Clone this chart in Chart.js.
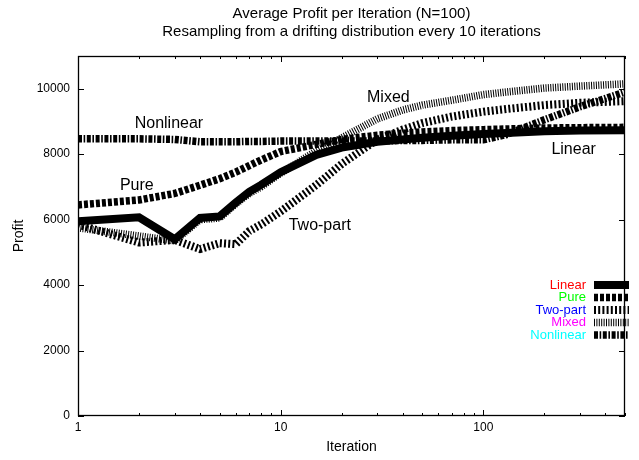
<!DOCTYPE html>
<html>
<head>
<meta charset="utf-8">
<script src="https://cdn.jsdelivr.net/npm/chart.js@4.4.1/dist/chart.umd.min.js"></script>
<style>
    html, body { margin: 0; padding: 0; background: #ffffff; }
    #wrap { width: 639px; height: 460px; }
</style>
</head>
<body>
<div id="wrap"><canvas id="profitChart"></canvas></div>
<script>
var iterations = [1, 2, 3, 4, 5, 6, 7, 8, 10, 15, 20, 30, 40, 50, 70, 100, 130, 200, 300, 500];

// Average profit per iteration, one array per pricing model
var linear    = [5950, 6070, 5400, 6050, 6100, 6520, 6850, 7060, 7450, 7980, 8200, 8380, 8450, 8500, 8560, 8620, 8650, 8700, 8720, 8730];
var pure      = [6450, 6600, 6800, 7050, 7250, 7450, 7650, 7820, 8080, 8300, 8450, 8580, 8640, 8680, 8720, 8750, 8770, 8800, 8810, 8820];
var twoPart   = [5850, 5300, 5380, 5100, 5280, 5250, 5650, 5850, 6250, 7060, 7700, 8450, 8750, 8950, 9150, 9300, 9380, 9500, 9570, 9620];
var mixed     = [5750, 5500, 5350, 6000, 6050, 6480, 6800, 7000, 7420, 8100, 8500, 9080, 9350, 9500, 9650, 9820, 9900, 10020, 10080, 10150];
var nonlinear = [8470, 8470, 8450, 8380, 8380, 8380, 8390, 8390, 8400, 8400, 8400, 8400, 8420, 8420, 8440, 8440, 8600, 9050, 9450, 9900];

var seriesNames = ["Linear", "Pure", "Two-part", "Mixed", "Nonlinear"];
var legendColors = ["#ff0000", "#00ff00", "#0000ff", "#ff00ff", "#00ffff"];

// names written next to the curves (data coordinates)
var noteText = ["Nonlinear", "Pure", "Two-part", "Mixed", "Linear"];
var noteX = [2.81, 1.95, 15.6, 34, 279];
var noteY = [8930, 7030, 5810, 9720, 8130];

// tick values
var yTicks = [0, 2000, 4000, 6000, 8000, 10000];
var xTicks = [1, 2, 3, 4, 5, 6, 7, 8, 9, 10, 20, 30, 40, 50, 60, 70, 80, 90, 100, 200, 300, 400, 500];

var FONT = "'Liberation Sans', Arial, sans-serif";

// gnuplot-like line types: width and dash pattern
var lineTypes = [
    { width: 8, dash: [] },
    { width: 7.5, dash: [4, 2] },
    { width: 8, dash: [2, 2.2] },
    { width: 7.5, dash: [1, 1.4] },
    { width: 7.5, dash: [4, 1.6, 1.6, 1.6] }
];

var allSeries = [linear, pure, twoPart, mixed, nonlinear];

function toPoints(values) {
    return iterations.map(function (it, i) {
        return { x: it, y: values[i] };
    });
}

var datasets = allSeries.map(function (values, i) {
    return {
        label: seriesNames[i],
        data: toPoints(values),
        borderColor: "#000000",
        backgroundColor: "#000000",
        borderWidth: lineTypes[i].width,
        borderDash: lineTypes[i].dash,
        borderCapStyle: "butt",
        borderJoinStyle: "miter",
        fill: false,
        tension: 0,
        pointRadius: 0,
        order: allSeries.length - i
    };
});

// frame with inward ticks, mirrored on all four sides
var frameAndTicks = {
    id: "frameAndTicks",
    beforeDatasetsDraw: function (chart) {
        var ctx = chart.ctx;
        var a = chart.chartArea;
        var xs = chart.scales.x;
        var ys = chart.scales.y;
        ctx.save();
        ctx.strokeStyle = "#000000";
        ctx.lineWidth = 1;
        ctx.beginPath();
        ys.ticks.forEach(function (t) {
            var py = Math.round(ys.getPixelForValue(t.value)) + 0.5;
            ctx.moveTo(a.left, py);
            ctx.lineTo(a.left + 6, py);
            ctx.moveTo(a.right, py);
            ctx.lineTo(a.right - 6, py);
        });
        xs.ticks.forEach(function (t) {
            var px = Math.round(xs.getPixelForValue(t.value)) + 0.5;
            var major = Math.abs(Math.log10(t.value) - Math.round(Math.log10(t.value))) < 1e-9;
            var len = major ? 6 : 3;
            ctx.moveTo(px, a.bottom);
            ctx.lineTo(px, a.bottom - len);
            ctx.moveTo(px, a.top);
            ctx.lineTo(px, a.top + len);
        });
        ctx.stroke();
        ctx.lineWidth = 1.3;
        ctx.strokeRect(Math.round(a.left) + 0.5, Math.round(a.top) + 0.5,
            Math.round(a.right - a.left) - 1, Math.round(a.bottom - a.top) - 1);
        ctx.restore();
    },
    afterDatasetsDraw: function (chart) {
        var ctx = chart.ctx;
        var a = chart.chartArea;
        var xs = chart.scales.x;
        var ys = chart.scales.y;
        ctx.save();

        // curve names inside the plot
        ctx.font = "16px " + FONT;
        ctx.fillStyle = "#000000";
        ctx.textAlign = "center";
        ctx.textBaseline = "middle";
        for (var i = 0; i < noteText.length; i++) {
            ctx.fillText(noteText[i], xs.getPixelForValue(noteX[i]), ys.getPixelForValue(noteY[i]));
        }

        // key in the lower right of the plot
        ctx.font = "13px " + FONT;
        ctx.textAlign = "right";
        for (var k = 0; k < seriesNames.length; k++) {
            var rowY = a.bottom - 131 + k * 12.5;
            ctx.fillStyle = legendColors[k];
            ctx.fillText(seriesNames[k], a.right - 39, rowY);
            ctx.strokeStyle = "#000000";
            ctx.lineWidth = lineTypes[k].width;
            ctx.lineCap = "butt";
            ctx.setLineDash(lineTypes[k].dash);
            ctx.beginPath();
            ctx.moveTo(a.right - 31, rowY);
            ctx.lineTo(a.right + 4, rowY);
            ctx.stroke();
        }
        ctx.restore();
    }
};

var ctx = document.getElementById("profitChart").getContext("2d");

var profitChart = new Chart(ctx, {
    type: "line",
    data: { datasets: datasets },
    plugins: [frameAndTicks],
    options: {
        responsive: true,
        maintainAspectRatio: false,
        animation: false,
        devicePixelRatio: 1,
        layout: {
            padding: { left: 0, right: 14, top: 0, bottom: 0 }
        },
        scales: {
            x: {
                type: "logarithmic",
                min: 1,
                max: 500,
                afterBuildTicks: function (scale) {
                    scale.ticks = xTicks.map(function (v) { return { value: v }; });
                },
                afterFit: function (scale) {
                    scale.height = 44;
                },
                grid: { display: false, drawTicks: false },
                border: { display: false },
                ticks: {
                    autoSkip: false,
                    maxRotation: 0,
                    padding: 4,
                    color: "#000000",
                    font: { family: FONT, size: 12 },
                    callback: function (value) {
                        var l = Math.log10(value);
                        return Math.abs(l - Math.round(l)) < 1e-9 ? String(value) : "";
                    }
                },
                title: {
                    display: true,
                    text: "Iteration",
                    color: "#000000",
                    font: { family: FONT, size: 14 },
                    padding: { top: 0, bottom: 4.6 }
                }
            },
            y: {
                type: "linear",
                min: 0,
                max: 11000,
                afterBuildTicks: function (scale) {
                    scale.ticks = yTicks.map(function (v) { return { value: v }; });
                },
                afterFit: function (scale) {
                    scale.width = 78;
                },
                grid: { display: false, drawTicks: false },
                border: { display: false },
                ticks: {
                    padding: 8,
                    color: "#000000",
                    font: { family: FONT, size: 12 },
                    callback: function (value) {
                        return String(value);
                    }
                },
                title: {
                    display: true,
                    text: "Profit",
                    color: "#000000",
                    font: { family: FONT, size: 14 },
                    padding: { top: 11, bottom: 0 }
                }
            }
        },
        plugins: {
            legend: { display: false },
            tooltip: { enabled: false },
            title: {
                display: true,
                fullSize: false,
                text: ["Average Profit per Iteration (N=100)",
                       "Resampling from a drifting distribution every 10 iterations"],
                color: "#000000",
                font: { family: FONT, size: 15, weight: "normal", lineHeight: 1.2 },
                padding: { top: 5, bottom: 15 }
            }
        }
    }
});
</script>
</body>
</html>
